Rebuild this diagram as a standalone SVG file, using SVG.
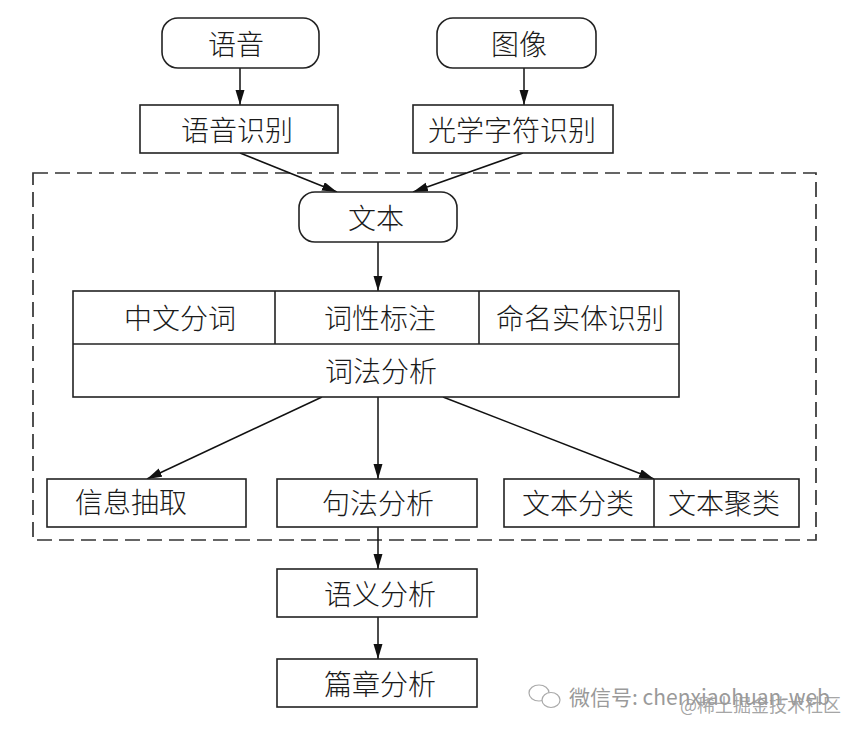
<svg xmlns="http://www.w3.org/2000/svg" width="864" height="735" viewBox="0 0 864 735">
<defs>
<marker id="arr" markerUnits="userSpaceOnUse" markerWidth="16" markerHeight="10" refX="15" refY="4.5" orient="auto">
<path d="M0,0 L15,4.5 L0,9 z" fill="#111"/>
</marker>
<style>
.box{fill:#fff;stroke:#222;stroke-width:1.6}
.t{font-family:"Noto Sans CJK SC","Noto Sans",sans-serif;font-size:28px;fill:#1a1a1a;text-anchor:middle;dominant-baseline:central;font-weight:300}
.c{stroke:#111;stroke-width:1.5;fill:none;marker-end:url(#arr)}
.dash{fill:none;stroke:#333;stroke-width:1.7;stroke-dasharray:15,7}
.wm{font-family:"Noto Sans CJK SC","Noto Sans",sans-serif;fill:#9a9a9a}
</style>
</defs>
<rect width="864" height="735" fill="#fff"/>
<rect id="region" class="dash" x="33" y="173" width="783" height="367"/>
<g id="connectors">
<line class="c" x1="240" y1="68" x2="240" y2="105"/>
<line class="c" x1="524" y1="68" x2="524" y2="105"/>
<line class="c" x1="240" y1="153" x2="337" y2="192"/>
<line class="c" x1="523" y1="153" x2="413" y2="192"/>
<line class="c" x1="378" y1="242" x2="378" y2="291"/>
<line class="c" x1="322" y1="397" x2="147" y2="479"/>
<line class="c" x1="378" y1="397" x2="378" y2="479"/>
<line class="c" x1="443" y1="397" x2="654" y2="479"/>
<line class="c" x1="378" y1="526" x2="378" y2="569"/>
<line class="c" x1="378" y1="617" x2="378" y2="659"/>
</g>
<g id="n-yuyin"><rect class="box" x="162" y="18" width="157" height="50" rx="16"/><text class="t" x="236" y="43">语音</text></g>
<g id="n-tuxiang"><rect class="box" x="437" y="18" width="159" height="50" rx="16"/><text class="t" x="519" y="43">图像</text></g>
<g id="n-yuyinshibie"><rect class="box" x="140" y="105" width="198" height="48"/><text class="t" x="237" y="129">语音识别</text></g>
<g id="n-ocr"><rect class="box" x="413" y="105" width="200" height="48"/><text class="t" x="512" y="129">光学字符识别</text></g>
<g id="n-wenben"><rect class="box" x="299" y="192" width="158" height="50" rx="16"/><text class="t" x="376" y="217">文本</text></g>
<g id="n-cifa">
<rect class="box" x="73" y="291" width="606" height="106"/>
<line class="box" x1="73" y1="344" x2="679" y2="344"/>
<line class="box" x1="275" y1="291" x2="275" y2="344"/>
<line class="box" x1="479" y1="291" x2="479" y2="344"/>
<text class="t" x="180" y="317">中文分词</text>
<text class="t" x="380" y="317">词性标注</text>
<text class="t" x="580" y="317">命名实体识别</text>
<text class="t" x="381" y="370">词法分析</text>
</g>
<g id="n-xinxi"><rect class="box" x="47" y="479" width="199" height="48"/><text class="t" x="131" y="501">信息抽取</text></g>
<g id="n-jufa"><rect class="box" x="277" y="479" width="200" height="48"/><text class="t" x="378" y="502">句法分析</text></g>
<g id="n-wenbenfenlei"><rect class="box" x="504" y="479" width="295" height="48"/><line class="box" x1="654" y1="479" x2="654" y2="527"/><text class="t" x="578" y="502">文本分类</text><text class="t" x="724" y="502">文本聚类</text></g>
<g id="n-yuyi"><rect class="box" x="277" y="569" width="200" height="48"/><text class="t" x="380" y="593">语义分析</text></g>
<g id="n-pianzhang"><rect class="box" x="277" y="659" width="200" height="48"/><text class="t" x="380" y="683">篇章分析</text></g>
<g id="watermark">
<ellipse cx="539" cy="693" rx="10" ry="8" fill="none" stroke="#aaa" stroke-width="1.2"/>
<ellipse cx="551" cy="700" rx="9" ry="7.5" fill="#fff" stroke="#aaa" stroke-width="1.2"/>
<text class="wm" x="569" y="705" font-size="21">微信号: chenxiaohuan-web</text>
<text class="wm" x="680" y="712" font-size="18" fill-opacity="0.9">@稀土掘金技术社区</text>
</g>
</svg>
